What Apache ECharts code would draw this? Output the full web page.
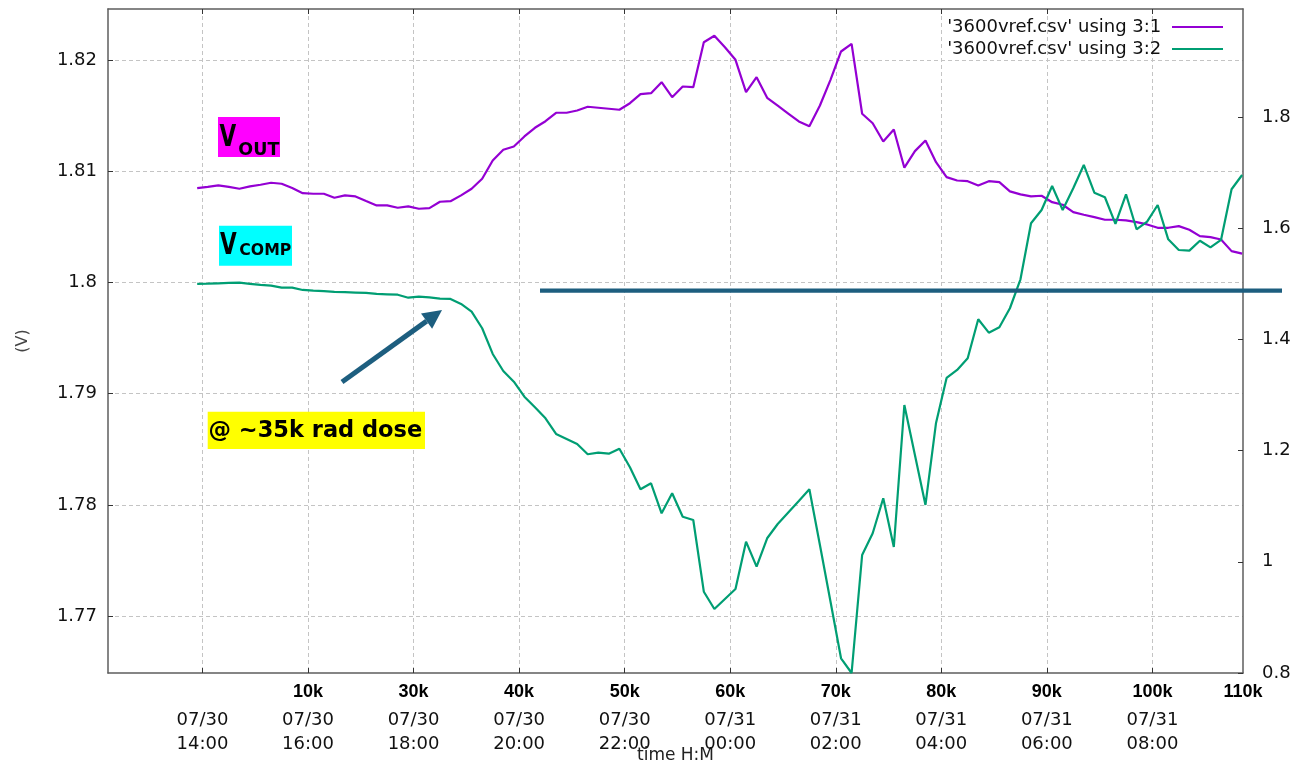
<!DOCTYPE html>
<html>
<head>
<meta charset="utf-8">
<script src="https://cdn.jsdelivr.net/npm/echarts@6/dist/echarts.min.js"></script>
<style>
html, body { margin: 0; padding: 0; background: #fff; }
#chart { width: 1294px; height: 763px; }
</style>
</head>
<body>
<div id="chart"></div>
<script>
// Logged samples, one every 12 minutes
const TIMES = [
  '2024-07-30 13:54',
  '2024-07-30 14:06', '2024-07-30 14:18', '2024-07-30 14:30', '2024-07-30 14:42', '2024-07-30 14:54',
  '2024-07-30 15:06', '2024-07-30 15:18', '2024-07-30 15:30', '2024-07-30 15:42', '2024-07-30 15:54',
  '2024-07-30 16:06', '2024-07-30 16:18', '2024-07-30 16:30', '2024-07-30 16:42', '2024-07-30 16:54',
  '2024-07-30 17:06', '2024-07-30 17:18', '2024-07-30 17:30', '2024-07-30 17:42', '2024-07-30 17:54',
  '2024-07-30 18:06', '2024-07-30 18:18', '2024-07-30 18:30', '2024-07-30 18:42', '2024-07-30 18:54',
  '2024-07-30 19:06', '2024-07-30 19:18', '2024-07-30 19:30', '2024-07-30 19:42', '2024-07-30 19:54',
  '2024-07-30 20:06', '2024-07-30 20:18', '2024-07-30 20:30', '2024-07-30 20:42', '2024-07-30 20:54',
  '2024-07-30 21:06', '2024-07-30 21:18', '2024-07-30 21:30', '2024-07-30 21:42', '2024-07-30 21:54',
  '2024-07-30 22:06', '2024-07-30 22:18', '2024-07-30 22:30', '2024-07-30 22:42', '2024-07-30 22:54',
  '2024-07-30 23:06', '2024-07-30 23:18', '2024-07-30 23:30', '2024-07-30 23:42', '2024-07-30 23:54',
  '2024-07-31 00:06', '2024-07-31 00:18', '2024-07-31 00:30', '2024-07-31 00:42', '2024-07-31 00:54',
  '2024-07-31 01:06', '2024-07-31 01:18', '2024-07-31 01:30', '2024-07-31 01:42', '2024-07-31 01:54',
  '2024-07-31 02:06', '2024-07-31 02:18', '2024-07-31 02:30', '2024-07-31 02:42', '2024-07-31 02:54',
  '2024-07-31 03:06', '2024-07-31 03:18', '2024-07-31 03:30', '2024-07-31 03:42', '2024-07-31 03:54',
  '2024-07-31 04:06', '2024-07-31 04:18', '2024-07-31 04:30', '2024-07-31 04:42', '2024-07-31 04:54',
  '2024-07-31 05:06', '2024-07-31 05:18', '2024-07-31 05:30', '2024-07-31 05:42', '2024-07-31 05:54',
  '2024-07-31 06:06', '2024-07-31 06:18', '2024-07-31 06:30', '2024-07-31 06:42', '2024-07-31 06:54',
  '2024-07-31 07:06', '2024-07-31 07:18', '2024-07-31 07:30', '2024-07-31 07:42', '2024-07-31 07:54',
  '2024-07-31 08:06', '2024-07-31 08:18', '2024-07-31 08:30', '2024-07-31 08:42', '2024-07-31 08:54',
  '2024-07-31 09:06', '2024-07-31 09:18', '2024-07-31 09:30', '2024-07-31 09:42'
];

// Column 1: VOUT (V), left axis
const VOUT = [
  1.80847, 1.80858, 1.80872, 1.80858, 1.80842, 1.80863, 1.80878, 1.80896, 1.80887, 1.80849,
  1.80802, 1.80797, 1.80797, 1.80761, 1.80782, 1.80773, 1.80732, 1.80692, 1.80692, 1.80671,
  1.80683, 1.80662, 1.80668, 1.80725, 1.80730, 1.80782, 1.80842, 1.80932, 1.81096, 1.81192,
  1.81222, 1.81312, 1.81390, 1.81449, 1.81525, 1.81525, 1.81545, 1.81579, 1.81570, 1.81561,
  1.81552, 1.81611, 1.81692, 1.81701, 1.81800, 1.81665, 1.81761, 1.81755, 1.82159, 1.82217,
  1.82114, 1.82001, 1.81710, 1.81845, 1.81659, 1.81589, 1.81518, 1.81447, 1.81404, 1.81590,
  1.81821, 1.82076, 1.82145, 1.81516, 1.81431, 1.81267, 1.81375, 1.81031, 1.81180, 1.81276,
  1.81081, 1.80946, 1.80916, 1.80910, 1.80872, 1.80910, 1.80901, 1.80818, 1.80791, 1.80773,
  1.80779, 1.80721, 1.80698, 1.80632, 1.80608, 1.80587, 1.80563, 1.80563, 1.80557, 1.80542,
  1.80521, 1.80491, 1.80491, 1.80506, 1.80473, 1.80416, 1.80407, 1.80386, 1.80281, 1.80258
];

// Column 2: VCOMP (V), right axis
const VCOMP = [
  1.4997, 1.5002, 1.5009, 1.5015, 1.5020, 1.4997, 1.4979, 1.4966, 1.4930, 1.4930,
  1.4889, 1.4876, 1.4867, 1.4856, 1.4849, 1.4842, 1.4835, 1.4817, 1.4811, 1.4804,
  1.4750, 1.4768, 1.4754, 1.4732, 1.4727, 1.4637, 1.4498, 1.4200, 1.3738, 1.3432,
  1.3239, 1.2970, 1.2779, 1.2581, 1.2299, 1.2209, 1.2119, 1.1934, 1.1962, 1.1944,
  1.2034, 1.1700, 1.1304, 1.1412, 1.0872, 1.1232, 1.0811, 1.0752, 0.9462, 0.9151,
  0.9331, 0.9511, 1.0362, 0.9912, 1.0423, 1.0680, 1.0887, 1.1094, 1.1304, 1.0302,
  0.9286, 0.8264, 0.8000, 1.0122, 1.0513, 1.1142, 1.0266, 1.2820, 1.1921, 1.1022,
  1.2497, 1.3306, 1.3450, 1.3660, 1.4362, 1.4121, 1.4218, 1.4560, 1.5081, 1.6088,
  1.6328, 1.6759, 1.6328, 1.6718, 1.7137, 1.6639, 1.6556, 1.6076, 1.6610, 1.5980,
  1.6117, 1.6417, 1.5800, 1.5608, 1.5596, 1.5775, 1.5656, 1.5788, 1.6700, 1.6957
];

const SERIES_NAMES = ["'3600vref.csv' using 3:1", "'3600vref.csv' using 3:2"];

// Time axis
const TIME_RANGE = ['2024-07-30 12:12:36', '2024-07-31 09:43:00'];
const TIME_TICKS = [
  '2024-07-30 14:00', '2024-07-30 16:00', '2024-07-30 18:00', '2024-07-30 20:00', '2024-07-30 22:00',
  '2024-07-31 00:00', '2024-07-31 02:00', '2024-07-31 04:00', '2024-07-31 06:00', '2024-07-31 08:00'
];

// Accumulated dose row under the time axis
const DOSE_LABELS = ['10k', '30k', '40k', '50k', '60k', '70k', '80k', '90k', '100k', '110k'];
const DOSE_AT = [
  '2024-07-30 16:00', '2024-07-30 18:00', '2024-07-30 20:00', '2024-07-30 22:00', '2024-07-31 00:00',
  '2024-07-31 02:00', '2024-07-31 04:00', '2024-07-31 06:00', '2024-07-31 08:00', '2024-07-31 09:43'
];

// Value axes
const LEFT_RANGE = [1.76488, 1.82458];
const LEFT_TICKS = [1.77, 1.78, 1.79, 1.80, 1.81, 1.82];
const RIGHT_RANGE = [0.8, 1.9942];
const RIGHT_TICKS = [0.8, 1.0, 1.2, 1.4, 1.6, 1.8];

const tp = s => +echarts.time.parse(s);
const pad = n => String(n).padStart(2, '0');
function timeLabel(v) {
  const d = new Date(v);
  return pad(d.getMonth() + 1) + '/' + pad(d.getDate()) + '\n' + pad(d.getHours()) + ':' + pad(d.getMinutes());
}
const doseByTime = {};
DOSE_AT.forEach((t, i) => { doseByTime[tp(t)] = DOSE_LABELS[i]; });

const FONT = 'DejaVu Sans';
const BORDER = { show: true, onZero: false, lineStyle: { color: '#5e5e5e', width: 1.5 } };
const GRIDLINE = { show: true, lineStyle: { color: '#c4c4c4', width: 1, type: [4, 3] } };
const TICK = { show: true, inside: true, length: 5, lineStyle: { color: '#333', width: 1 } };

const timeTicks = TIME_TICKS.map(tp);
const xMin = tp(TIME_RANGE[0]);
const xMax = tp(TIME_RANGE[1]);

const chart = echarts.init(document.getElementById('chart'), null, { renderer: 'canvas' });

// Callout geometry (overlay drawing)
const ANNOT = '#1d5e7f';
const arrow = { x1: 342, y1: 382, x2: 442, y2: 310, head: 19, half: 9.5, width: 5 };
const ang = Math.atan2(arrow.y2 - arrow.y1, arrow.x2 - arrow.x1);
const baseX = arrow.x2 - arrow.head * Math.cos(ang);
const baseY = arrow.y2 - arrow.head * Math.sin(ang);
const px = -Math.sin(ang), py = Math.cos(ang);

const option = {
  animation: false,
  backgroundColor: '#fff',
  textStyle: { fontFamily: FONT },
  grid: { left: 108, right: 51, top: 9, bottom: 90, containLabel: false, outerBoundsMode: 'none' },
  legend: {
    orient: 'vertical',
    right: 66,
    top: 12,
    align: 'right',
    icon: 'rect',
    itemWidth: 51,
    itemHeight: 2.2,
    itemGap: 2,
    selectedMode: false,
    formatter: n => n + ' ',
    textStyle: { fontFamily: FONT, fontSize: 18, color: '#111', lineHeight: 20 },
    data: SERIES_NAMES
  },
  xAxis: [
    {
      type: 'value', position: 'bottom', min: xMin, max: xMax, scale: true,
      name: 'time H:M', nameLocation: 'middle', nameGap: 74, nameMoveOverlap: false,
      nameTextStyle: { fontFamily: FONT, fontSize: 17, color: '#222' },
      axisLine: BORDER,
      axisTick: Object.assign({ customValues: timeTicks }, TICK),
      axisLabel: {
        customValues: timeTicks, formatter: timeLabel, margin: 35,
        fontFamily: FONT, fontSize: 18, lineHeight: 24, color: '#111'
      },
      splitLine: GRIDLINE
    },
    {
      type: 'value', position: 'bottom', min: xMin, max: xMax, scale: true,
      axisLine: { show: false }, axisTick: { show: false }, splitLine: { show: false },
      axisLabel: {
        customValues: DOSE_AT.map(tp), formatter: v => doseByTime[v] || '', margin: 9,
        fontFamily: 'Liberation Sans', fontWeight: 'bold', fontSize: 18, lineHeight: 20, color: '#000'
      }
    },
    {
      type: 'value', position: 'top', min: xMin, max: xMax, scale: true,
      axisLine: BORDER,
      axisTick: Object.assign({ customValues: timeTicks }, TICK),
      axisLabel: { show: false }, splitLine: { show: false }
    }
  ],
  yAxis: [
    {
      type: 'value', position: 'left', min: LEFT_RANGE[0], max: LEFT_RANGE[1],
      name: '(V)', nameLocation: 'middle', nameGap: 77, nameMoveOverlap: false,
      nameTextStyle: { fontFamily: FONT, fontSize: 16, color: '#444' },
      axisLine: BORDER,
      axisTick: Object.assign({ customValues: LEFT_TICKS }, TICK),
      axisLabel: { customValues: LEFT_TICKS, margin: 11, fontFamily: FONT, fontSize: 18, color: '#111' },
      splitLine: GRIDLINE
    },
    {
      type: 'value', position: 'right', min: RIGHT_RANGE[0], max: RIGHT_RANGE[1],
      axisLine: BORDER,
      axisTick: Object.assign({ customValues: RIGHT_TICKS }, TICK),
      axisLabel: { customValues: RIGHT_TICKS, margin: 19, fontFamily: FONT, fontSize: 18, color: '#111' },
      splitLine: { show: false }
    }
  ],
  series: [
    {
      name: SERIES_NAMES[0], type: 'line', xAxisIndex: 0, yAxisIndex: 0,
      data: TIMES.map((t, i) => [tp(t), VOUT[i]]),
      symbol: 'none', lineStyle: { color: '#9400d3', width: 2.2 }, itemStyle: { color: '#9400d3' },
      emphasis: { disabled: true }, z: 3
    },
    {
      name: SERIES_NAMES[1], type: 'line', xAxisIndex: 0, yAxisIndex: 1,
      data: TIMES.map((t, i) => [tp(t), VCOMP[i]]),
      symbol: 'none', lineStyle: { color: '#009e73', width: 2.2 }, itemStyle: { color: '#009e73' },
      emphasis: { disabled: true }, z: 3
    }
  ],
  graphic: [
    // VOUT tag
    { type: 'rect', z: 100, shape: { x: 218, y: 117, width: 62, height: 40 }, style: { fill: '#ff00ff' } },
    { type: 'text', z: 101, x: 219.5, y: 138, scaleX: 0.72,
      style: { text: 'V', fontFamily: FONT, fontWeight: 'bold', fontSize: 30, fill: '#000', verticalAlign: 'middle' } },
    { type: 'text', z: 101, x: 238.3, y: 150,
      style: { text: 'OUT', fontFamily: FONT, fontWeight: 'bold', fontSize: 17.5, fill: '#000', verticalAlign: 'middle' } },
    // VCOMP tag
    { type: 'rect', z: 100, shape: { x: 219, y: 225.7, width: 73, height: 40 }, style: { fill: '#00ffff' } },
    { type: 'text', z: 101, x: 220, y: 246.3, scaleX: 0.72,
      style: { text: 'V', fontFamily: FONT, fontWeight: 'bold', fontSize: 30, fill: '#000', verticalAlign: 'middle' } },
    { type: 'text', z: 101, x: 239.3, y: 250.8,
      style: { text: 'COMP', fontFamily: FONT, fontWeight: 'bold', fontSize: 15.7, fill: '#000', verticalAlign: 'middle' } },
    // dose callout
    { type: 'rect', z: 100, shape: { x: 207.7, y: 411.7, width: 217.3, height: 37.3 }, style: { fill: '#ffff00' } },
    { type: 'text', z: 101, x: 208.5, y: 431,
      style: { text: '@ ~35k rad dose', fontFamily: FONT, fontWeight: 'bold', fontSize: 22.5, fill: '#000', verticalAlign: 'middle' } },
    // arrow
    { type: 'line', z: 100, shape: { x1: arrow.x1, y1: arrow.y1, x2: baseX, y2: baseY },
      style: { stroke: ANNOT, lineWidth: arrow.width } },
    { type: 'polygon', z: 100,
      shape: { points: [
        [arrow.x2, arrow.y2],
        [baseX + arrow.half * px, baseY + arrow.half * py],
        [baseX - arrow.half * px, baseY - arrow.half * py]
      ] },
      style: { fill: ANNOT } },
    // reference level line
    { type: 'line', z: 100, shape: { x1: 540, y1: 290.7, x2: 1282, y2: 290.7 },
      style: { stroke: ANNOT, lineWidth: 4.3 } }
  ]
};

chart.setOption(option);
</script>
</body>
</html>
